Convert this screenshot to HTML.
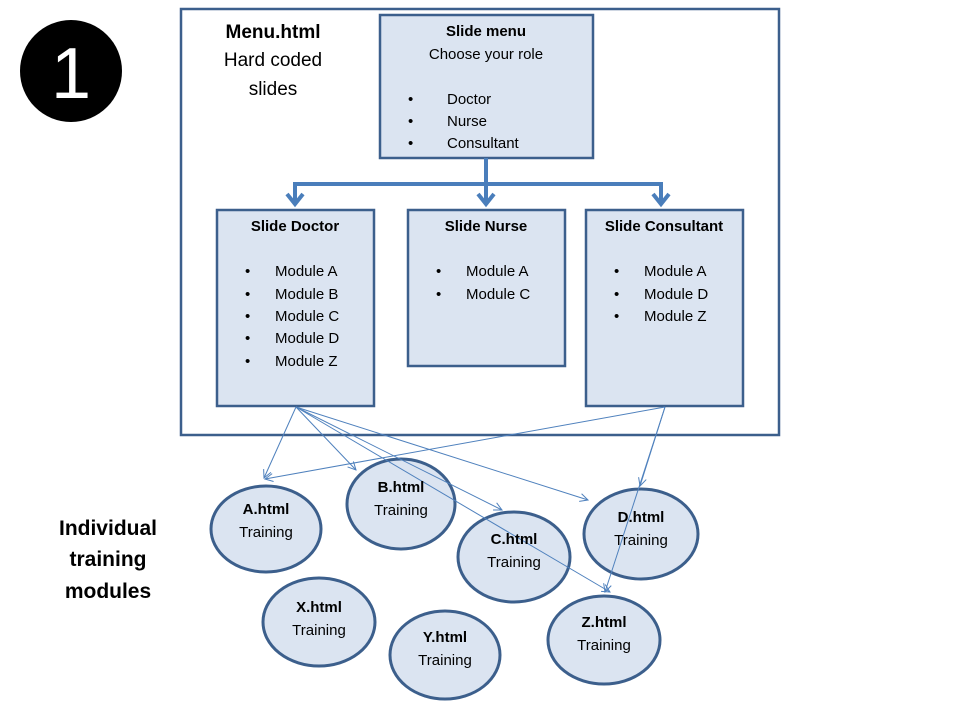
<!DOCTYPE html>
<html><head><meta charset="utf-8"><style>
html,body{margin:0;padding:0;background:#fff;}
svg{display:block;}
text{font-family:"Liberation Sans",sans-serif;fill:#000;}
.b{font-weight:bold;}
</style></head><body>
<svg width="960" height="720" viewBox="0 0 960 720" xmlns="http://www.w3.org/2000/svg">
<defs>
<marker id="a" markerWidth="10" markerHeight="10" refX="9" refY="5" orient="auto" markerUnits="userSpaceOnUse"><path d="M1,1 L9,5 L1,9" fill="none" stroke="#4f81bd" stroke-width="1"/></marker>
</defs>
<circle cx="71" cy="71" r="51" fill="#000"/>
<text x="71" y="98" font-size="72" text-anchor="middle" style="fill:#fff">1</text>

<rect x="181" y="9" width="598" height="426" fill="#fff" stroke="#3c5f8c" stroke-width="2.5"/>
<text x="273" y="38" font-size="19" text-anchor="middle" class="b">Menu.html</text>
<text x="273" y="66" font-size="19" text-anchor="middle">Hard coded</text>
<text x="273" y="95" font-size="19" text-anchor="middle">slides</text>

<rect x="380" y="15" width="213" height="143" fill="#dbe4f1" stroke="#3c5f8c" stroke-width="2.5"/>
<text x="486" y="36" font-size="15" text-anchor="middle" class="b">Slide menu</text>
<text x="486" y="59" font-size="15" text-anchor="middle">Choose your role</text>
<g font-size="15"><text x="408" y="104">•</text><text x="447" y="104">Doctor</text>
<text x="408" y="126">•</text><text x="447" y="126">Nurse</text>
<text x="408" y="148">•</text><text x="447" y="148">Consultant</text></g>

<g stroke="#4a7ebb" stroke-width="4" fill="none">
<line x1="486" y1="158" x2="486" y2="204"/>
<polyline points="295,204 295,184 661,184 661,204"/>
<polyline points="287,194 295,204 303,194"/>
<polyline points="478,194 486,204 494,194"/>
<polyline points="653,194 661,204 669,194"/>
</g>

<rect x="217" y="210" width="157" height="196" fill="#dbe4f1" stroke="#3c5f8c" stroke-width="2.5"/>
<text x="295" y="231" font-size="15" text-anchor="middle" class="b">Slide Doctor</text>
<g font-size="15"><text x="245" y="276">•</text><text x="275" y="276">Module A</text>
<text x="245" y="299">•</text><text x="275" y="299">Module B</text>
<text x="245" y="321">•</text><text x="275" y="321">Module C</text>
<text x="245" y="343">•</text><text x="275" y="343">Module D</text>
<text x="245" y="366">•</text><text x="275" y="366">Module Z</text></g>

<rect x="408" y="210" width="157" height="156" fill="#dbe4f1" stroke="#3c5f8c" stroke-width="2.5"/>
<text x="486" y="231" font-size="15" text-anchor="middle" class="b">Slide Nurse</text>
<g font-size="15"><text x="436" y="276">•</text><text x="466" y="276">Module A</text>
<text x="436" y="299">•</text><text x="466" y="299">Module C</text></g>

<rect x="586" y="210" width="157" height="196" fill="#dbe4f1" stroke="#3c5f8c" stroke-width="2.5"/>
<text x="664" y="231" font-size="15" text-anchor="middle" class="b">Slide Consultant</text>
<g font-size="15"><text x="614" y="276">•</text><text x="644" y="276">Module A</text>
<text x="614" y="299">•</text><text x="644" y="299">Module D</text>
<text x="614" y="321">•</text><text x="644" y="321">Module Z</text></g>

<text x="108" y="535" font-size="21" text-anchor="middle" class="b">Individual</text>
<text x="108" y="566" font-size="21" text-anchor="middle" class="b">training</text>
<text x="108" y="598" font-size="21" text-anchor="middle" class="b">modules</text>

<g fill="#dbe4f1" stroke="#3c5f8c" stroke-width="3">
<ellipse cx="266" cy="529" rx="55" ry="43"/>
<ellipse cx="401" cy="504" rx="54" ry="45"/>
<ellipse cx="514" cy="557" rx="56" ry="45"/>
<ellipse cx="641" cy="534" rx="57" ry="45"/>
<ellipse cx="319" cy="622" rx="56" ry="44"/>
<ellipse cx="445" cy="655" rx="55" ry="44"/>
<ellipse cx="604" cy="640" rx="56" ry="44"/>
</g>

<g stroke="#4f81bd" stroke-width="1" fill="none" marker-end="url(#a)">
<line x1="296" y1="407" x2="264" y2="478"/>
<line x1="296" y1="407" x2="356" y2="470"/>
<line x1="296" y1="407" x2="502" y2="510"/>
<line x1="296" y1="407" x2="588" y2="500"/>
<line x1="296" y1="407" x2="610" y2="592"/>
<line x1="665" y1="407" x2="265" y2="479"/>
<line x1="665" y1="407" x2="640" y2="486"/>
<line x1="665" y1="407" x2="605" y2="592"/>
</g>

<g font-size="15" text-anchor="middle">
<text x="266" y="514" class="b">A.html</text><text x="266" y="537">Training</text>
<text x="401" y="492" class="b">B.html</text><text x="401" y="515">Training</text>
<text x="514" y="544" class="b">C.html</text><text x="514" y="567">Training</text>
<text x="641" y="522" class="b">D.html</text><text x="641" y="545">Training</text>
<text x="319" y="612" class="b">X.html</text><text x="319" y="635">Training</text>
<text x="445" y="642" class="b">Y.html</text><text x="445" y="665">Training</text>
<text x="604" y="627" class="b">Z.html</text><text x="604" y="650">Training</text>
</g>
</svg>
</body></html>
